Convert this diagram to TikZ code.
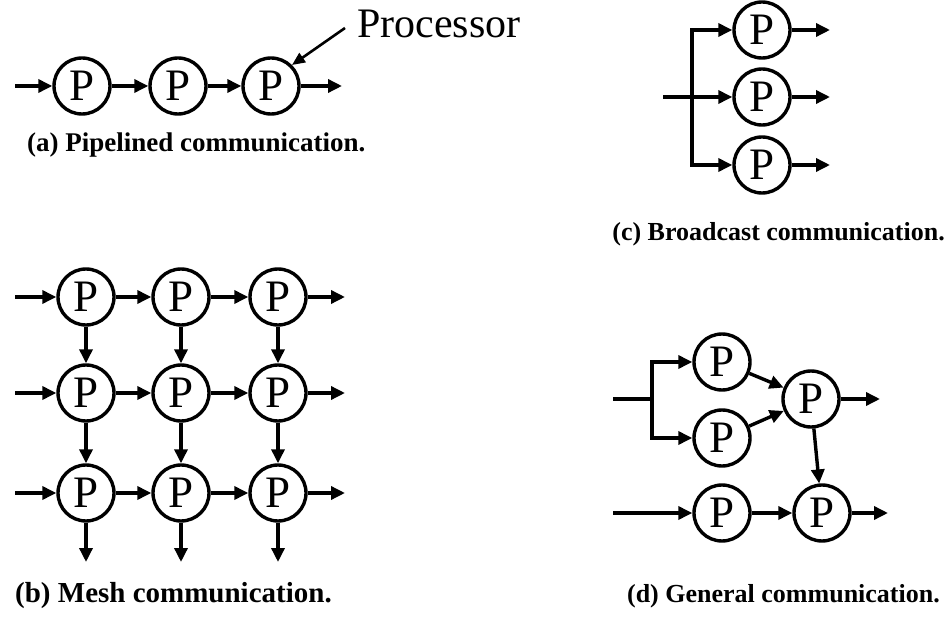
\documentclass[tikz,border=0pt]{standalone}
\usepackage{fontspec}
\setmainfont{Liberation Serif}
\usetikzlibrary{arrows.meta}
\begin{document}
\begin{tikzpicture}[x=1pt,y=-1pt,
  proc/.style={circle,draw,line width=3.4pt,minimum size=56pt,inner sep=0pt,
    font=\fontsize{45}{45}\selectfont},
  arr/.style={line width=3.4pt,-{Triangle[length=14pt,width=13pt]}},
  wire/.style={line width=3.4pt},
  capA/.style={font=\bfseries\fontsize{29}{29}\selectfont,anchor=base west,inner sep=0pt},
  capC/.style={font=\bfseries\fontsize{26}{26}\selectfont,anchor=base east,inner sep=0pt}]
\path[use as bounding box] (0,0) rectangle (948,617);

% (a) pipeline
\node[proc] (a1) at (82,86) {P};
\node[proc] (a2) at (178,86) {P};
\node[proc] (a3) at (271,86) {P};
\coordinate (ain) at (15,86);
\coordinate (aout) at (342,86);
\draw[arr] (ain) -- (a1);
\draw[arr] (a1) -- (a2);
\draw[arr] (a2) -- (a3);
\draw[arr] (a3) -- (aout);
\node[anchor=base west,inner sep=0pt,font=\fontsize{42}{42}\selectfont] (ptxt) at (357,38) {Processor};
\coordinate (lead) at (345,28);
\draw[line width=2.6pt,-{Triangle[length=13pt,width=11pt]}] (lead) -- (a3.45);
\node[capA,font=\bfseries\fontsize{27}{27}\selectfont] (capa) at (27,152) {(a) Pipelined communication.};

% (b) mesh
\foreach \c/\x in {1/86,2/181,3/278}{
  \foreach \r/\y in {1/297,2/393,3/493}{
    \node[proc] (m\r\c) at (\x,\y) {P};
  }
}
\foreach \r/\y in {1/297,2/393,3/493}{
  \coordinate (min\r) at (15,\y);
  \coordinate (mout\r) at (345,\y);
  \draw[arr] (min\r) -- (m\r1);
  \draw[arr] (m\r1) -- (m\r2);
  \draw[arr] (m\r2) -- (m\r3);
  \draw[arr] (m\r3) -- (mout\r);
}
\foreach \c/\x in {1/86,2/181,3/278}{
  \coordinate (mdn\c) at (\x,562);
  \draw[arr] (m1\c) -- (m2\c);
  \draw[arr] (m2\c) -- (m3\c);
  \draw[arr] (m3\c) -- (mdn\c);
}
\node[capA] (capb) at (15,602) {(b) Mesh communication.};

% (c) broadcast
\node[proc] (c1) at (762,30) {P};
\node[proc] (c2) at (762,97) {P};
\node[proc] (c3) at (762,165) {P};
\coordinate (cin) at (663,97);
\coordinate (cb1) at (692,30);
\coordinate (cb3) at (692,165);
\draw[wire,line cap=rect] (cb1) -- (cb3);
\draw[arr] (cin) -- (c2);
\draw[arr] (cb1) -- (c1);
\draw[arr] (cb3) -- (c3);
\foreach \i/\y in {1/30,2/97,3/165}{
  \coordinate (cout\i) at (830,\y);
  \draw[arr] (c\i) -- (cout\i);
}
\node[capC] (capc) at (945,241) {(c) Broadcast communication.};

% (d) general
\node[proc] (dA) at (722,362) {P};
\node[proc] (dB) at (722,438) {P};
\node[proc] (dC) at (811,399) {P};
\node[proc] (dD) at (722,513) {P};
\node[proc] (dE) at (822,513) {P};
\coordinate (din) at (613,399);
\coordinate (dbar) at (652,399);
\coordinate (dbA) at (652,362);
\coordinate (dbB) at (652,438);
\draw[wire] (din) -- (dbar);
\draw[wire,line cap=rect] (dbA) -- (dbB);
\draw[arr] (dbA) -- (dA);
\draw[arr] (dbB) -- (dB);
\draw[arr] (dA) -- (dC);
\draw[arr] (dB) -- (dC);
\draw[arr] (dC) -- (dE);
\coordinate (din2) at (613,513);
\draw[arr] (din2) -- (dD);
\draw[arr] (dD) -- (dE);
\coordinate (dCout) at (880,399);
\coordinate (dEout) at (888,513);
\draw[arr] (dC) -- (dCout);
\draw[arr] (dE) -- (dEout);
\node[capC] (capd) at (940,602) {(d) General communication.};
\end{tikzpicture}
\end{document}
